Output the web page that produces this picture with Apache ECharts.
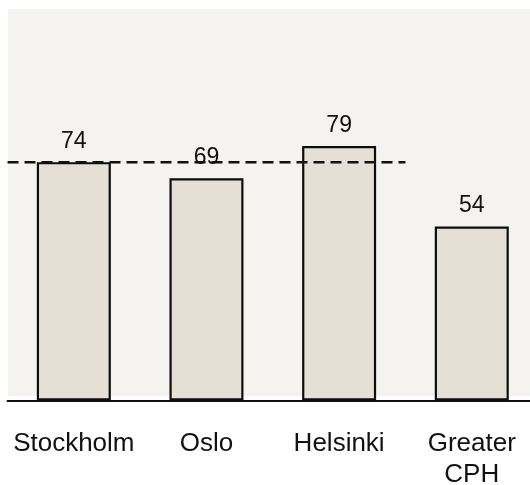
<!DOCTYPE html>
<html>
<head>
<meta charset="utf-8">
<script src="https://cdn.jsdelivr.net/npm/echarts@6/dist/echarts.min.js"></script>
<style>
  html, body { margin: 0; padding: 0; background: #ffffff; }
  #chart { width: 530px; height: 485px; }
</style>
</head>
<body>
<div id="chart"></div>
<script>
// City scores
const cities = ["Stockholm", "Oslo", "Helsinki", "Greater CPH"];
const scores = [74, 69, 79, 54];

// Dashed benchmark line: level and horizontal extent (in category bands)
const benchmarkLevel = [74];
const benchmarkSpan = [0, 3];

const FONT = "'Liberation Sans', Arial, Helvetica, sans-serif";

const chart = echarts.init(document.getElementById('chart'), null, { renderer: 'canvas' });

chart.setOption({
  backgroundColor: '#ffffff',
  animation: false,
  graphic: [{
    type: 'rect',
    z: -10,
    silent: true,
    shape: { x: 8, y: 9, width: 530, height: 387 },
    style: { fill: '#f4f3ef' }
  }],
  grid: {
    left: 7.5, width: 530.6, top: 14, height: 386.5,
    outerBoundsMode: 'none',
    containLabel: false
  },
  xAxis: [{
    type: 'category',
    data: cities,
    axisLine: { show: true, lineStyle: { color: '#111111', width: 2 } },
    axisTick: { show: false },
    axisLabel: {
      interval: 0,
      fontFamily: FONT,
      fontSize: 26,
      lineHeight: 31,
      color: '#111111',
      margin: 28,
      formatter: v => v.replace(' ', '\n')
    },
    splitLine: { show: false }
  }, {
    type: 'value',
    min: 0,
    max: cities.length,
    show: false
  }],
  yAxis: {
    type: 'value',
    min: 0,
    max: 120,
    show: false,
    splitLine: { show: false }
  },
  series: [{
    type: 'bar',
    data: scores,
    xAxisIndex: 0,
    barWidth: 74,
    itemStyle: { color: '#e4e0d6', borderColor: '#0d0d0d', borderWidth: 2.2 },
    label: {
      show: true,
      position: 'top',
      distance: 9,
      fontFamily: FONT,
      fontSize: 23,
      color: '#111111'
    },
    z: 2
  }, {
    type: 'line',
    xAxisIndex: 1,
    data: benchmarkSpan.map(x => [x, benchmarkLevel[0]]),
    symbol: 'none',
    lineStyle: { color: '#111111', width: 2.5, type: [11, 6] },
    z: 3,
    silent: true
  }]
});
</script>
</body>
</html>
